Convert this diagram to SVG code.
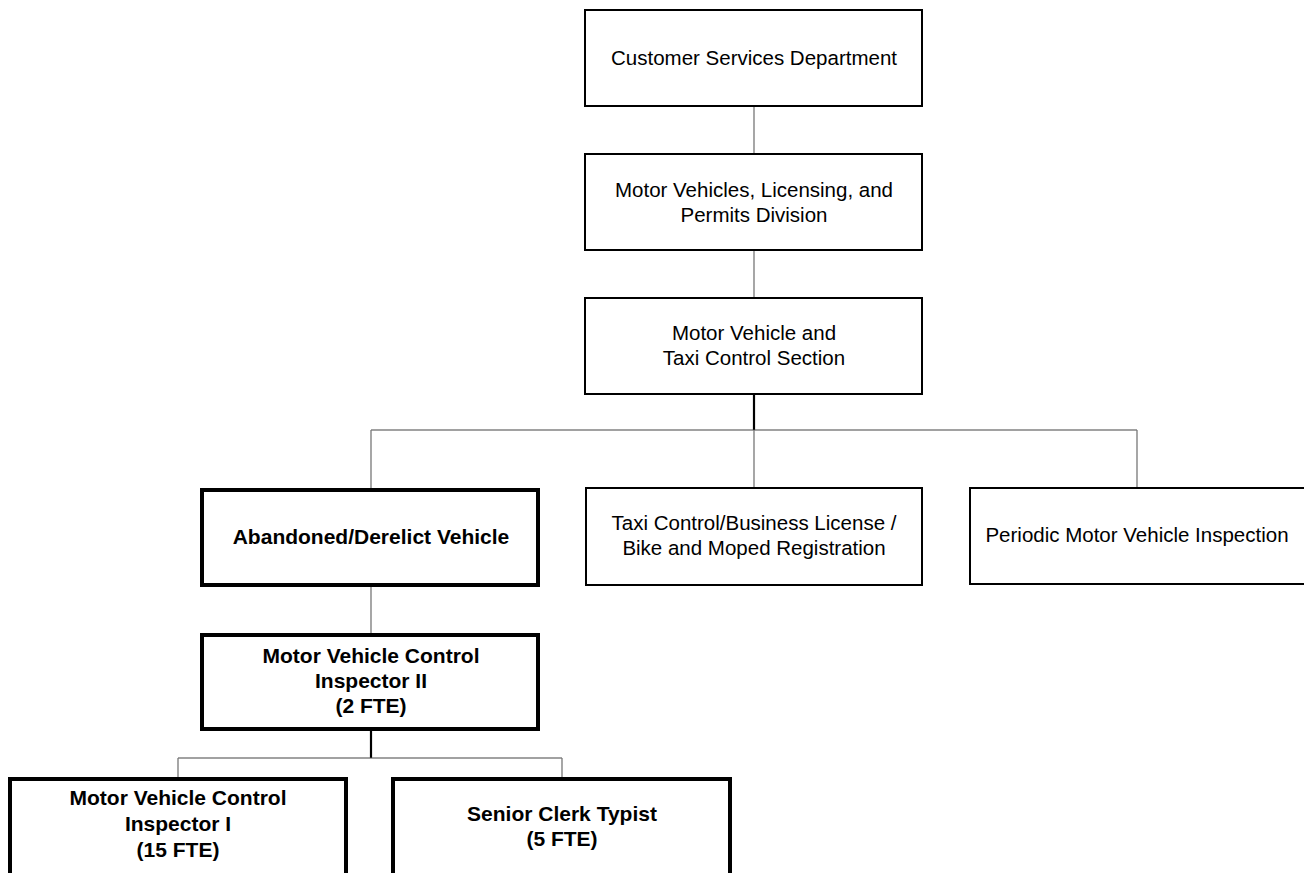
<svg xmlns="http://www.w3.org/2000/svg" width="1304" height="873" viewBox="0 0 1304 873">
<style>
.box{fill:#fff;stroke:#000;stroke-width:2}
.bbox{fill:#fff;stroke:#000;stroke-width:4}
.t{font-family:"Liberation Sans",Arial,sans-serif;font-size:20.5px;fill:#000;text-anchor:middle}
.b{font-family:"Liberation Sans",Arial,sans-serif;font-size:21px;font-weight:bold;fill:#000;text-anchor:middle}
.c{stroke:#777;stroke-width:1.3;fill:none}
.k{stroke:#000;stroke-width:2.2;fill:none}
.h{stroke:#444;stroke-width:1.2;fill:none}
</style>
<rect width="1304" height="873" fill="#fff"/>
<g id="connectors">
<line class="c" x1="754" y1="106" x2="754" y2="154"/>
<line class="c" x1="754" y1="250" x2="754" y2="298"/>
<line class="k" x1="754" y1="394" x2="754" y2="430"/>
<line class="h" x1="371" y1="430" x2="1137" y2="430"/>
<line class="c" x1="371" y1="430" x2="371" y2="489"/>
<line class="c" x1="754" y1="430" x2="754" y2="488"/>
<line class="c" x1="1137" y1="430" x2="1137" y2="488"/>
<line class="c" x1="371" y1="585" x2="371" y2="634"/>
<line class="k" x1="371" y1="730" x2="371" y2="758"/>
<line class="h" x1="178" y1="758" x2="562" y2="758"/>
<line class="c" x1="178" y1="758" x2="178" y2="778"/>
<line class="c" x1="562" y1="758" x2="562" y2="778"/>
</g>
<g id="customer-services">
<rect class="box" x="585" y="10" width="337" height="96"/>
<text class="t" x="754" y="65">Customer Services Department</text>
</g>
<g id="motor-vehicles-division">
<rect class="box" x="585" y="154" width="337" height="96"/>
<text class="t" x="754" y="197">Motor Vehicles, Licensing, and</text>
<text class="t" x="754" y="222">Permits Division</text>
</g>
<g id="taxi-control-section">
<rect class="box" x="585" y="298" width="337" height="96"/>
<text class="t" x="754" y="340">Motor Vehicle and</text>
<text class="t" x="754" y="365">Taxi Control Section</text>
</g>
<g id="abandoned">
<rect class="bbox" x="202" y="490" width="336" height="95"/>
<text class="b" x="371" y="544">Abandoned/Derelict Vehicle</text>
</g>
<g id="taxi-business">
<rect class="box" x="586" y="488" width="336" height="97"/>
<text class="t" x="754" y="530">Taxi Control/Business License /</text>
<text class="t" x="754" y="555">Bike and Moped Registration</text>
</g>
<g id="periodic">
<rect class="box" x="970" y="488" width="336" height="96"/>
<text class="t" x="1137" y="542">Periodic Motor Vehicle Inspection</text>
</g>
<g id="inspector-2">
<rect class="bbox" x="202" y="635" width="336" height="94"/>
<text class="b" x="371" y="663">Motor Vehicle Control</text>
<text class="b" x="371" y="688">Inspector II</text>
<text class="b" x="371" y="713">(2 FTE)</text>
</g>
<g id="inspector-1">
<rect class="bbox" x="10" y="779" width="336" height="100"/>
<text class="b" x="178" y="805">Motor Vehicle Control</text>
<text class="b" x="178" y="831">Inspector I</text>
<text class="b" x="178" y="857">(15 FTE)</text>
</g>
<g id="senior-clerk">
<rect class="bbox" x="393" y="779" width="337" height="100"/>
<text class="b" x="562" y="821">Senior Clerk Typist</text>
<text class="b" x="562" y="846">(5 FTE)</text>
</g>
</svg>
